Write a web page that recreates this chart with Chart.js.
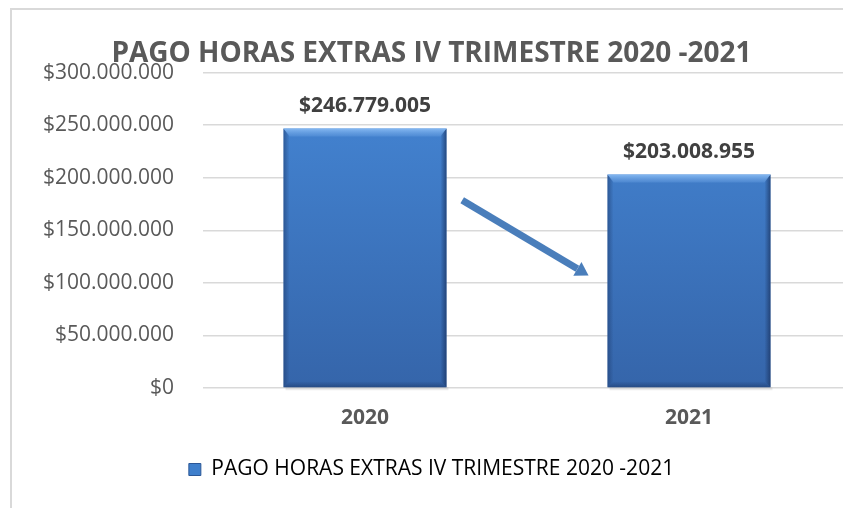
<!DOCTYPE html>
<html>
<head>
<meta charset="utf-8">
<script src="https://cdn.jsdelivr.net/npm/chart.js@4.4.0/dist/chart.umd.min.js"></script>
<style>
    html, body { margin: 0; padding: 0; background: #fff; overflow: hidden; width: 843px; height: 508px; }
    .chart-box {
        position: absolute; left: 10px; top: 8px;
        width: 860px; height: 498px;
        border-left: 2px solid #d9d9d9; border-top: 2px solid #d9d9d9;
    }
</style>
</head>
<body>
<div class="chart-box"><canvas id="pagoChart" width="860" height="498"></canvas></div>
<script>
const categories = ['2020', '2021'];
const pagoValues = [246779005, 203008955];
const seriesName = 'PAGO HORAS EXTRAS IV TRIMESTRE 2020 -2021';
const yTicks = [0, 50000000, 100000000, 150000000, 200000000, 250000000, 300000000];
// arrow between the bars: [category index, value]
const arrowFrom = [0.3, 178600000];
const arrowTo = [0.69, 107000000];

const FONT = '"Open Sans", sans-serif';
const GRAY = '#595959';

function formatPeso(v) {
    return '$' + String(Math.round(v)).replace(/\B(?=(\d{3})+(?!\d))/g, '.');
}

function barGradient(context) {
    const chart = context.chart;
    const area = chart.chartArea;
    if (!area) return '#3f7fcc';
    const g = chart.ctx.createLinearGradient(0, area.top, 0, area.bottom);
    g.addColorStop(0, '#4587d6');
    g.addColorStop(1, '#3565aa');
    return g;
}

// bevel look on the bars, similar to the office 3d style
const bevelPlugin = {
    id: 'bevel',
    afterDatasetsDraw(chart) {
        const ctx = chart.ctx;
        chart.getDatasetMeta(0).data.forEach(bar => {
            const l = bar.x - bar.width / 2;
            const r = bar.x + bar.width / 2;
            const t = bar.y;
            const b = bar.base;
            const e = 6;
            ctx.save();
            // shadow
            ctx.fillStyle = 'rgba(0,0,0,0.08)';
            ctx.fillRect(l + 2, b, r - l, 3);
            // left edge
            let g = ctx.createLinearGradient(l, 0, l + e, 0);
            g.addColorStop(0, 'rgba(30,60,110,0.55)');
            g.addColorStop(1, 'rgba(30,60,110,0)');
            ctx.fillStyle = g;
            ctx.beginPath();
            ctx.moveTo(l, t); ctx.lineTo(l + e, t + e); ctx.lineTo(l + e, b - e); ctx.lineTo(l, b);
            ctx.fill();
            // right edge
            g = ctx.createLinearGradient(r - e, 0, r, 0);
            g.addColorStop(0, 'rgba(25,50,95,0)');
            g.addColorStop(1, 'rgba(25,50,95,0.7)');
            ctx.fillStyle = g;
            ctx.beginPath();
            ctx.moveTo(r, t); ctx.lineTo(r - e, t + e); ctx.lineTo(r - e, b - e); ctx.lineTo(r, b);
            ctx.fill();
            // bottom edge
            g = ctx.createLinearGradient(0, b - e, 0, b);
            g.addColorStop(0, 'rgba(25,50,95,0)');
            g.addColorStop(1, 'rgba(25,50,95,0.5)');
            ctx.fillStyle = g;
            ctx.beginPath();
            ctx.moveTo(l, b); ctx.lineTo(l + e, b - e); ctx.lineTo(r - e, b - e); ctx.lineTo(r, b);
            ctx.fill();
            // top edge, lighter
            g = ctx.createLinearGradient(0, t, 0, t + e + 2);
            g.addColorStop(0, 'rgba(140,190,245,0.9)');
            g.addColorStop(1, 'rgba(110,165,230,0.3)');
            ctx.fillStyle = g;
            ctx.beginPath();
            ctx.moveTo(l, t); ctx.lineTo(r, t); ctx.lineTo(r - e, t + e + 2); ctx.lineTo(l + e, t + e + 2);
            ctx.fill();
            ctx.restore();
        });
    }
};

const labelPlugin = {
    id: 'valueLabels',
    afterDatasetsDraw(chart) {
        const ctx = chart.ctx;
        ctx.save();
        ctx.font = 'bold 21px ' + FONT;
        ctx.fillStyle = '#404040';
        ctx.textAlign = 'center';
        ctx.textBaseline = 'middle';
        chart.getDatasetMeta(0).data.forEach((bar, i) => {
            ctx.fillText(formatPeso(pagoValues[i]), bar.x, bar.y - 23);
        });
        ctx.restore();
    }
};

const arrowPlugin = {
    id: 'arrow',
    afterDatasetsDraw(chart) {
        const xs = chart.scales.x;
        const ys = chart.scales.y;
        const x0 = xs.getPixelForValue(arrowFrom[0]);
        const y0 = ys.getPixelForValue(arrowFrom[1]);
        const x1 = xs.getPixelForValue(arrowTo[0]);
        const y1 = ys.getPixelForValue(arrowTo[1]);
        const len = Math.hypot(x1 - x0, y1 - y0);
        const ux = (x1 - x0) / len, uy = (y1 - y0) / len;
        const head = 13, half = 8;
        const bx = x1 - ux * head, by = y1 - uy * head;
        const ctx = chart.ctx;
        ctx.save();
        ctx.strokeStyle = '#4a7ebb';
        ctx.fillStyle = '#4a7ebb';
        ctx.lineWidth = 7;
        ctx.beginPath();
        ctx.moveTo(x0, y0);
        ctx.lineTo(bx, by);
        ctx.stroke();
        ctx.beginPath();
        ctx.moveTo(x1, y1);
        ctx.lineTo(bx - uy * half, by + ux * half);
        ctx.lineTo(bx + uy * half, by - ux * half);
        ctx.closePath();
        ctx.fill();
        ctx.restore();
    }
};

new Chart(document.getElementById('pagoChart'), {
    type: 'bar',
    data: {
        labels: categories,
        datasets: [{
            label: seriesName,
            data: pagoValues,
            backgroundColor: barGradient,
            borderWidth: 0,
            categoryPercentage: 1,
            barPercentage: 0.503
        }]
    },
    options: {
        responsive: false,
        animation: false,
        layout: { padding: { left: 0, right: 21, top: 0, bottom: 18 } },
        plugins: {
            tooltip: { enabled: false },
            title: {
                display: true,
                text: seriesName,
                color: GRAY,
                font: { family: FONT, size: 28, weight: 'bold' },
                padding: { top: 27, bottom: 2 }
            },
            legend: {
                position: 'bottom',
                labels: {
                    color: GRAY,
                    font: { family: FONT, size: 21 },
                    boxWidth: 12,
                    boxHeight: 12,
                    padding: 10,
                    generateLabels: () => [{
                        text: seriesName,
                        fillStyle: '#3f7fcc',
                        strokeStyle: '#2b5797',
                        lineWidth: 1,
                        datasetIndex: 0
                    }]
                }
            }
        },
        scales: {
            x: {
                grid: { display: false },
                border: { display: false },
                ticks: {
                    color: GRAY,
                    font: { family: FONT, size: 21, weight: 'bold' },
                    padding: 9
                },
                afterFit: scale => { scale.height = 61; }
            },
            y: {
                min: 0,
                max: 300000000,
                afterBuildTicks: scale => { scale.ticks = yTicks.map(v => ({ value: v })); },
                grid: { color: '#d9d9d9', lineWidth: 1.5, drawTicks: false },
                border: { display: false },
                ticks: {
                    color: GRAY,
                    font: { family: FONT, size: 21 },
                    padding: 29,
                    callback: v => formatPeso(v)
                },
                afterFit: scale => { scale.width = 191; }
            }
        }
    },
    plugins: [bevelPlugin, arrowPlugin, labelPlugin]
});
</script>
</body>
</html>
